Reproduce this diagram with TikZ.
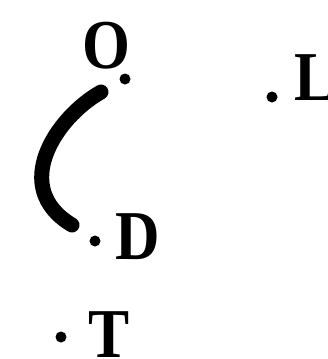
\documentclass[tikz,border=0pt]{standalone}
\usepackage{fontspec}
\setmainfont{Liberation Serif}
\begin{document}
\begin{tikzpicture}[x=1pt,y=-1pt,
  lbl/.style={inner sep=0pt,anchor=base west,font=\fontsize{70}{70}\selectfont\bfseries},
  pt/.style={circle,fill=black,inner sep=0pt,minimum size=11pt}]
\useasboundingbox (0,0) rectangle (328,359);
\node[lbl] (O) at (82,68) {\scalebox{0.88}[1]{O}};
\node[lbl] (L) at (294,100) {\scalebox{0.88}[1]{L}};
\node[lbl] (D) at (115,259) {\scalebox{0.88}[1]{D}};
\node[lbl] (T) at (88,357) {\scalebox{0.88}[1]{T}};
\node[pt] (o) at (125,79) {};
\node[pt] (l) at (272,97) {};
\node[pt] (d) at (95,241) {};
\node[pt] (t) at (61,337) {};
\coordinate (a1) at (101,92);
\coordinate (a2) at (72,225);
\draw[line width=15pt,line cap=round] (a1) .. controls (55,118) and (10,188) .. (a2);
\end{tikzpicture}
\end{document}
